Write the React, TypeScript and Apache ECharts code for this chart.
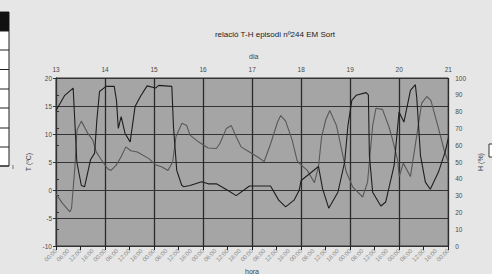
import React, { useEffect, useRef } from "react";
import * as echarts from "echarts";

const titleText = "relació T-H episodi nº244 EM Sort";
const topAxisName = "dia";
const bottomAxisName = "hora";
const dayLabels = ["13", "14", "15", "16", "17", "18", "19", "20", "21"];
const hourLabels = ["00:00", "06:00", "12:00", "18:00"];

// Temperature (ºC), hours since day 13 00:00
const tHours = [0, 3, 6.8, 7.6, 9.2, 10.3, 12.4, 15.6, 18, 19.7, 22, 25.3, 26.9, 29.4, 31.8, 34.2, 36.6, 39.8, 45.5, 48.7, 51.9, 54.8, 57.1, 58.7, 61.6, 64, 65.6, 69.7, 74.5, 78.5, 80.2, 83.4, 85.8, 88.2, 90.6, 94.7, 99.5, 101.9, 105.1, 108.4, 110, 112.4, 115.6, 118, 119, 123, 126.5, 128.5, 130, 132, 134, 137.3, 139.7, 142.1, 145.3, 150.1, 152.5, 155, 156.6, 159.8, 163, 164.8, 167.2, 168, 170, 173.5, 179, 181.5, 183.5, 187, 190, 192];
const tVals = [-0.7, -2.3, -3.9, -3.3, 3.8, 10.7, 12.3, 10.1, 8.9, 6.8, 5.5, 3.8, 3.5, 4.4, 5.9, 7.7, 7.0, 6.8, 5.6, 4.5, 4.1, 3.5, 5.0, 9.5, 11.9, 11.5, 9.8, 8.6, 7.5, 7.4, 8.3, 11.0, 11.5, 9.5, 7.7, 6.8, 5.7, 5.1, 8.3, 12.1, 13.3, 12.3, 8.9, 5.3, 4.8, 3.5, 1.3, 4.2, 9.5, 12.5, 14.2, 11.5, 7.4, 3.2, 0.5, -1.25, 1.4, 11.5, 14.6, 14.4, 11.25, 8.9, 5.4, 2.4, 4.8, 2.4, 15.5, 16.7, 16.0, 11.3, 7.1, 5.0];

// Relative humidity (%)
const hHours = [0, 4.3, 8.4, 10.2, 12.4, 14, 16.9, 18.9, 20, 21.3, 24.5, 28.5, 29.6, 30.5, 31.9, 33.8, 36.3, 38.7, 41.3, 44.6, 48.7, 50.3, 56.7, 57.5, 59.1, 61.5, 62.4, 65.6, 71.3, 74.5, 78.5, 84.2, 88.2, 94.7, 105, 109, 112.4, 116.5, 119, 120, 128.5, 130.5, 133.5, 138, 141.3, 142.9, 144.8, 146.9, 151.8, 152.9, 153.4, 155, 159, 161.4, 165.5, 167.9, 170.3, 173.5, 175.9, 176.6, 178.4, 180.8, 183.2, 187.2, 190.5, 192];
const hVals = [80.7, 89.7, 94, 50, 36, 35.3, 51.3, 55.3, 75, 92, 95, 95, 86.7, 70, 77, 67, 62, 83, 89, 95.3, 94, 95.6, 95, 71, 45, 36.3, 35.3, 36, 38.3, 37, 37, 33, 30, 35.7, 35.7, 27.3, 23.3, 27.3, 33, 39, 47.3, 34, 22.5, 32, 50, 71.7, 86.7, 89.7, 91.3, 90, 54, 32, 23.8, 26.2, 48, 79.8, 73.8, 92.6, 96, 88, 54, 38, 33.8, 44, 56, 64];

export default function App() {
  const ref = useRef<HTMLDivElement>(null);
  useEffect(() => {
    document.body.style.margin = "0";
    const chart = echarts.init(ref.current!, null, { renderer: "svg" });
    const font = "Arial, 'Liberation Sans', sans-serif";
    const labelColor = "#4a4a4a";
    const tData = tHours.map((h, i) => [h, tVals[i]]);
    const hData = hHours.map((h, i) => [h, hVals[i]]);
    const tableRows = [31, 50, 69.5, 89, 108, 128, 147, 166];
    chart.setOption({
      animation: false,
      backgroundColor: "#e6e6e6",
      textStyle: { fontFamily: font },
      title: {
        text: titleText,
        left: 270,
        top: 25,
        textAlign: "center",
        textStyle: { fontSize: 8, fontWeight: "normal", color: "#222", fontFamily: font },
      },
      grid: {
        left: 56,
        top: 78,
        width: 397,
        height: 168,
        show: true,
        backgroundColor: "#a5a5a5",
        borderColor: "#333",
        borderWidth: 1,
      },
      xAxis: [
        {
          type: "value",
          position: "bottom",
          min: 0,
          max: 192,
          interval: 6,
          axisLine: { show: true, lineStyle: { color: "#333" } },
          axisTick: { show: false },
          splitLine: { show: false },
          axisLabel: {
            rotate: 45,
            fontSize: 6,
            color: "#8a8a8a",
            margin: 4,
            formatter: (v: number) => hourLabels[Math.round(v / 6) % 4],
          },
        },
        {
          type: "value",
          position: "top",
          min: 0,
          max: 192,
          interval: 24,
          axisLine: { show: true, lineStyle: { color: "#333" } },
          axisTick: { show: true, inside: true, length: 4, lineStyle: { color: "#222" } },
          minorTick: { show: true, splitNumber: 2, length: 4, lineStyle: { color: "#222" } },
          splitLine: { show: true, lineStyle: { color: "#2a2a2a", width: 1.3 } },
          axisLabel: {
            fontSize: 6.5,
            color: labelColor,
            margin: 5,
            formatter: (v: number) => dayLabels[Math.round(v / 24)],
          },
        },
      ],
      yAxis: [
        {
          type: "value",
          min: -10,
          max: 20,
          interval: 5,
          name: "T (ºC)",
          nameLocation: "middle",
          nameGap: 20,
          nameTextStyle: { fontSize: 7, color: "#444" },
          axisLine: { show: true, lineStyle: { color: "#333" } },
          axisTick: { show: true, length: 3, lineStyle: { color: "#333" } },
          splitLine: { show: true, lineStyle: { color: "#333", width: 1.2 } },
          axisLabel: { fontSize: 6.5, color: labelColor, margin: 4 },
        },
        {
          type: "value",
          min: 0,
          max: 100,
          interval: 10,
          position: "right",
          offset: 3,
          name: "H (%)",
          nameLocation: "middle",
          nameGap: 22,
          nameTextStyle: { fontSize: 7, color: "#444" },
          axisLine: { show: true, lineStyle: { color: "#333" } },
          axisTick: { show: true, length: 3, lineStyle: { color: "#333" } },
          splitLine: { show: false },
          axisLabel: { fontSize: 6.5, color: labelColor, margin: 4 },
        },
      ],
      series: [
        {
          name: "T",
          type: "line",
          xAxisIndex: 0,
          yAxisIndex: 0,
          data: tData,
          symbol: "none",
          lineStyle: { color: "#585858", width: 1.1 },
        },
        {
          name: "H",
          type: "line",
          xAxisIndex: 0,
          yAxisIndex: 1,
          data: hData,
          symbol: "none",
          lineStyle: { color: "#1e1e1e", width: 1.1 },
        },
      ],
      graphic: [
        { type: "text", left: 249, top: 53, style: { text: topAxisName, fontSize: 7, fill: "#444", fontFamily: font } },
        { type: "text", left: 245, top: 268, style: { text: bottomAxisName, fontSize: 7, fill: "#444", fontFamily: font } },
        { type: "rect", shape: { x: -2, y: 12, width: 11, height: 154 }, style: { fill: "#fff", stroke: "#222", lineWidth: 1 } },
        { type: "rect", shape: { x: -2, y: 12, width: 11, height: 19 }, style: { fill: "#111" } },
        ...tableRows.map((y) => ({
          type: "line",
          shape: { x1: 0, y1: y, x2: 9, y2: y },
          style: { stroke: "#222", lineWidth: 1 },
        })),
        { type: "line", shape: { x1: 13, y1: 165, x2: 13, y2: 169 }, style: { stroke: "#777", lineWidth: 1 } },
        { type: "rect", shape: { x: 489, y: 144, width: 6, height: 13 }, style: { fill: "#fff", stroke: "#333", lineWidth: 1 } },
      ],
    });
    return () => chart.dispose();
  }, []);
  return <div ref={ref} style={{ position: "absolute", left: 0, top: 0, width: 492, height: 274 }} />;
}
